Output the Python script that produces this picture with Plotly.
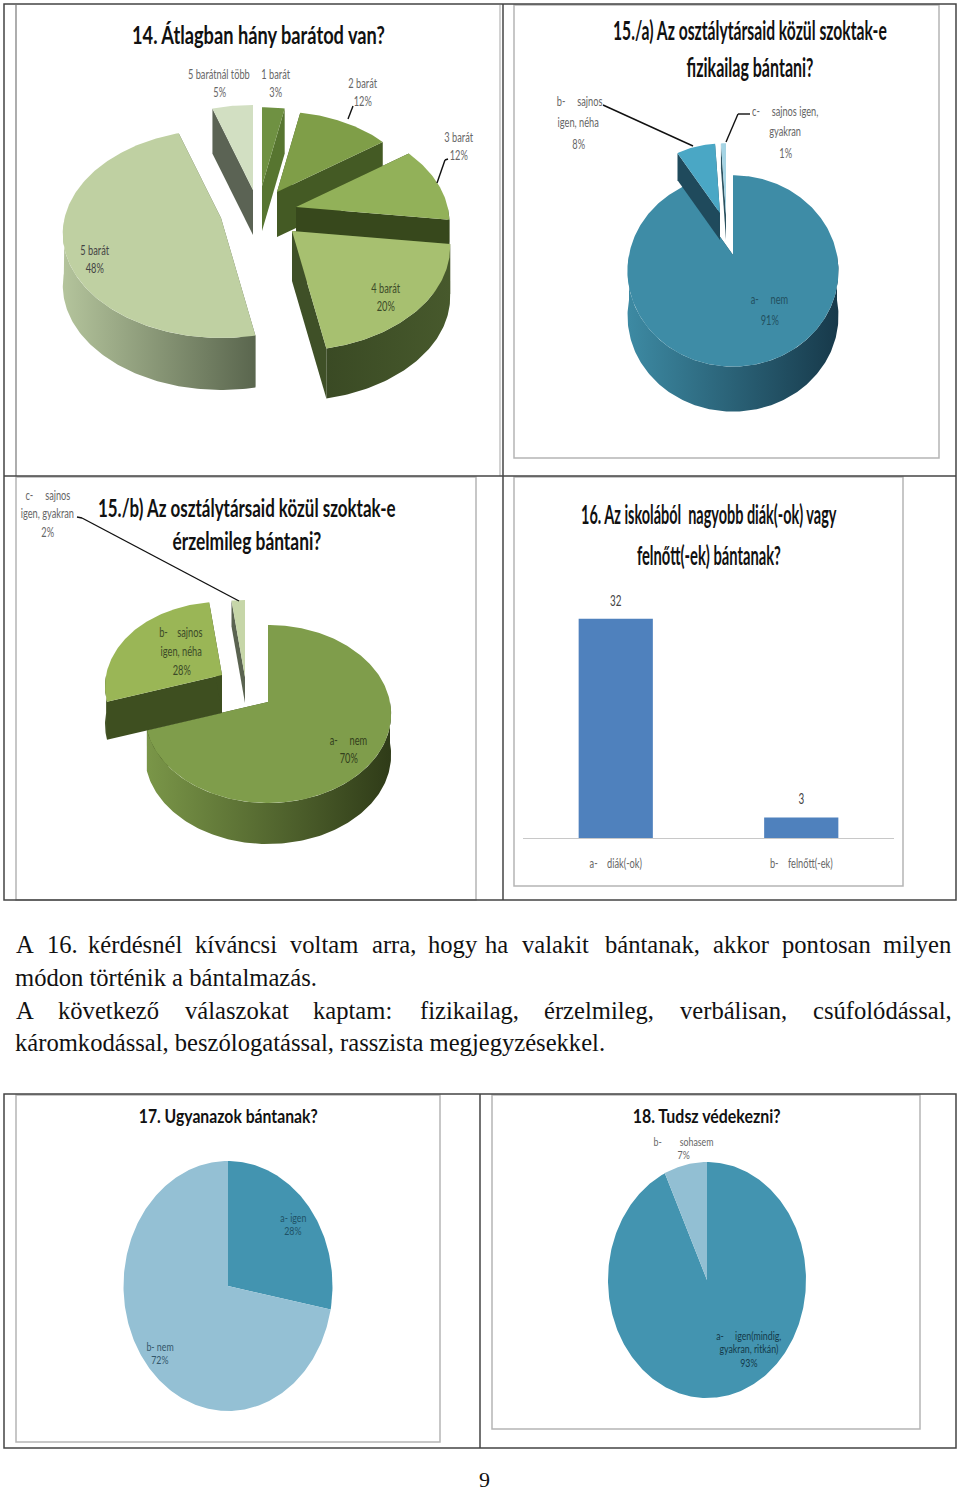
import json
import math
import plotly.graph_objects as go

# ---------- data ----------
q14_labels = ["1 barát", "2 barát", "3 barát", "4 barát", "5 barát", "5 barátnál több"]
q14_values = [3, 12, 12, 20, 48, 5]
q15a_labels = ["a-   nem", "b-   sajnos igen, néha", "c-   sajnos igen, gyakran"]
q15a_values = [91, 8, 1]
q15b_labels = ["a-   nem", "b-   sajnos igen, néha", "c-   sajnos igen, gyakran"]
q15b_values = [70, 28, 2]
q16_labels = ["a-\u00a0\u00a0\u00a0\u00a0diák(-ok)", "b-\u00a0\u00a0\u00a0\u00a0felnőtt(-ek)"]
q16_values = [32, 3]
q17_labels = ["a- igen", "b- nem"]
q17_values = [28, 72]
q18_labels = ["a-   igen(mindig, gyakran, ritkán)", "b-   sohasem"]
q18_values = [93, 7]

NARROW = "Lato"
SERIF = "Liberation Serif"
NB = "\u00a0"

traces = []


def angles(values):
    tot = sum(values)
    out, acc = [], 0
    for v in values:
        out.append((acc / tot * 360, (acc + v) / tot * 360))
        acc += v
    return out


def pt(apex, rx, ry, k, th, f=1.0):
    t = math.radians(th)
    s = 1 / (1 + k * math.cos(t))
    return apex[0] + f * rx * s * math.sin(t), apex[1] - f * ry * s * math.cos(t)


def arc(apex, rx, ry, k, a, b, f=1.0):
    n = max(int(abs(b - a)), 3)
    return [pt(apex, rx, ry, k, a + (b - a) * i / n, f) for i in range(n + 1)]


def poly(points, name, color=None, grad=None):
    xs = [p[0] for p in points] + [points[0][0]]
    ys = [p[1] for p in points] + [points[0][1]]
    kw = dict(x=xs, y=ys, mode="lines", fill="toself", line=dict(width=0),
              name=name, showlegend=False, hoverinfo="name", xaxis="x", yaxis="y")
    if grad:
        kw["fillgradient"] = dict(type="horizontal", colorscale=[[0, grad[0]], [1, grad[1]]])
    else:
        kw["fillcolor"] = color
    traces.append(go.Scatter(**kw))


def slice3d(name, a, b, apex, rx, ry, k, depth, top, side, wall=None, f=1.0):
    if depth:
        d = depth
        for th in (a, b):
            r = pt(apex, rx, ry, k, th, f)
            poly([apex, r, (r[0], r[1] + d), (apex[0], apex[1] + d)], name, side)
        lo, hi = max(a, 90), min(b, 270)
        if hi > lo:
            rim = arc(apex, rx, ry, k, lo, hi, f)
            low = [(x, y + d) for x, y in reversed(rim)]
            poly(rim + low, name, side if not wall else None, wall)
    poly([apex] + arc(apex, rx, ry, k, a, b, f), name, top)


# --- chart 14 ---
a14 = angles(q14_values)
s14 = {
    5: ((253, 190), 0.95, 45, "#d2dfc2", "#5b6354", None),
    0: ((262, 186), 0.88, 45, "#6f9142", "#577530", None),
    1: ((277, 192), 0.9, 45, "#7f9e48", "#445a24", None),
    2: ((296, 207), 0.96, 25, "#92b159", "#37481c", None),
    3: ((292, 231), 0.99, 50, "#a7c070", "#3f5027", ("#3a4a24", "#47592c")),
    4: ((221, 218), 0.99, 52, "#bfd0a2", "#5c6a50", ("#b4c49c", "#5a664e")),
}
for i in [5, 0, 1, 2, 3, 4]:
    ap, f, d, top, side, wall = s14[i]
    slice3d(q14_labels[i], a14[i][0], a14[i][1], ap, 158, 103, 0.15, d, top, side, wall, f)

# --- chart 15a ---
a15 = angles(q15a_values)
slice3d(q15a_labels[0], *a15[0], (733, 255), 104, 93, 0.167, 45, "#3e8ca6", "#1f4a5c", ("#3d8aa3", "#17394a"))
slice3d(q15a_labels[1], *a15[1], (720, 213), 104, 93, 0.167, 27, "#4aa7c5", "#1f4a5c", None, 0.87)
slice3d(q15a_labels[2], *a15[2], (726, 215), 104, 93, 0.167, 25, "#a5d4e4", "#2c5260", None, 0.9)

# --- chart 15b ---
b15 = angles(q15b_values)
slice3d(q15b_labels[0], *b15[0], (268, 702), 122, 87.4, 0.135, 41, "#7f9d4b", "#3e4f20", ("#7a9648", "#2f3b18"))
slice3d(q15b_labels[1], *b15[1], (222, 675), 122, 87.4, 0.135, 38, "#9ab656", "#3e4f20", None, 0.95)
slice3d(q15b_labels[2], *b15[2], (245, 677), 122, 87.4, 0.135, 26, "#c6d6a8", "#5a6350")

# --- charts 17, 18 ---
c17 = angles(q17_values)
slice3d(q17_labels[0], *c17[0], (228, 1286), 104.5, 125, 0, 0, "#4394b0", None)
slice3d(q17_labels[1], *c17[1], (228, 1286), 104.5, 125, 0, 0, "#94c0d4", None)
c18 = angles(q18_values)
slice3d(q18_labels[0], *c18[0], (707, 1280), 99, 118, 0, 0, "#4394b0", None)
slice3d(q18_labels[1], *c18[1], (707, 1280), 99, 118, 0, 0, "#92bfd3", None)

# --- chart 16 bars ---
traces.append(go.Bar(
    x=q16_labels, y=q16_values, width=0.4, marker=dict(color="#4f81bd", line=dict(width=0)),
    xaxis="x2", yaxis="y2", showlegend=False))

fig = go.Figure(traces)

# ---------- text ----------
anns = []
widths = {}


def T(x, y, s, size=12, color="#595959", family=NARROW, bold=False, anchor="center", w=None):
    anns.append(dict(x=x, y=y, xref="x", yref="y", text=f"<b>{s}</b>" if bold else s,
                     showarrow=False, xanchor=anchor, yanchor="middle",
                     font=dict(family=family, size=size, color=color)))
    if w:
        widths[s] = w


T(258, 34, "14. Átlagban hány barátod van?", 24, "#111", NARROW, True, w=253)
T(750, 29, "15./a) Az osztálytársaid közül szoktak-e", 27, "#111", NARROW, True, w=274)
T(750, 66, "fizikailag bántani?", 27, "#111", NARROW, True, w=127)
T(247, 507, "15./b) Az osztálytársaid közül szoktak-e", 24, "#111", NARROW, True, w=298)
T(247, 540, "érzelmileg bántani?", 24, "#111", NARROW, True, w=149)
T(709, 513, f"16. Az iskolából{NB}{NB}nagyobb diák(-ok) vagy", 27, "#111", NARROW, True, w=256)
T(709, 554, "felnőtt(-ek) bántanak?", 27, "#111", NARROW, True, w=144)
T(228, 1116, "17. Ugyanazok bántanak?", 18, "#111", NARROW, True, w=179)
T(706, 1116, "18. Tudsz védekezni?", 18, "#111", NARROW, True, w=148)

for x, y, s, c in [
    (219, 73, "5 barátnál több", "#666"), (219, 91, "5%", "#666"),
    (275, 73, "1 barát", "#666"), (275, 91, "3%", "#666"),
    (362, 82, "2 barát", "#666"), (362, 100, "12%", "#666"),
    (458, 136, "3 barát", "#666"), (458, 154, "12%", "#666"),
    (94, 249, "5 barát", "#444"), (94, 267, "48%", "#444"),
    (385, 287, "4 barát", "#3c4a28"), (385, 305, "20%", "#3c4a28"),
    (579, 100, f"b-{NB*5}sajnos", "#666"), (578, 121, "igen, néha", "#666"), (578, 143, "8%", "#666"),
    (785, 110, f"c-{NB*5}sajnos igen,", "#666"), (785, 130, "gyakran", "#666"), (785, 152, "1%", "#666"),
    (769, 298, f"a-{NB*5}nem", "#23505f"), (769, 319, "91%", "#23505f"),
    (48, 494, f"c-{NB*5}sajnos", "#666"), (47, 512, "igen, gyakran", "#666"), (47, 531, "2%", "#666"),
    (181, 631, f"b-{NB*4}sajnos", "#3c4a28"), (181, 650, "igen, néha", "#3c4a28"), (181, 669, "28%", "#3c4a28"),
    (348, 739, f"a-{NB*5}nem", "#33401c"), (348, 757, "70%", "#33401c"),
]:
    T(x, y, s, 14, c)

for x, y, s, c in [
    (293, 1217, "a- igen", "#1f5266"), (293, 1230, "28%", "#1f5266"),
    (160, 1346, "b- nem", "#33566a"), (160, 1359, "72%", "#33566a"),
    (683, 1141, f"b-{NB*8}sohasem", "#666"), (683, 1154, "7%", "#666"),
    (749, 1335, f"a-{NB*5}igen(mindig,", "#143a4a"), (749, 1348, "gyakran, ritkán)", "#143a4a"),
    (749, 1362, "93%", "#143a4a"),
]:
    T(x, y, s, 11, c)

# value labels above the bars, read from the series itself
for lab, v in zip(q16_labels, q16_values):
    anns.append(dict(x=lab, y=v, xref="x2", yref="y2", text=str(v), showarrow=False,
                     xanchor="center", yanchor="middle", yshift=19,
                     font=dict(family=NARROW, size=15, color="#444")))

BODY = 24.6
line1 = [(14, "A"), (45, "16."), (86, "kérdésnél"), (193, "kíváncsi"), (288, "voltam"), (370, "arra,"),
         (426, "hogy"), (483, "ha"), (520, "valakit"), (603, "bántanak,"), (711, "akkor"),
         (780, "pontosan"), (881, "milyen")]
line3 = [(14, "A"), (56, "következő"), (183, "válaszokat"), (311, "kaptam:"), (418, "fizikailag,"),
         (542, "érzelmileg,"), (678, "verbálisan,"), (811, "csúfolódással,")]
for x, w in line1:
    T(x, 944, w, BODY, "#111", SERIF, anchor="left")
T(13, 977, "módon történik a bántalmazás.", BODY, "#111", SERIF, anchor="left")
for x, w in line3:
    T(x, 1010, w, BODY, "#111", SERIF, anchor="left")
T(13, 1042, "káromkodással, beszólogatással, rasszista megjegyzésekkel.", BODY, "#111", SERIF, anchor="left")
T(484, 1479, "9", 22, "#111", SERIF)

# ---------- frames and leader lines ----------
shapes = []


def L(x0, y0, x1, y1, color="#333", w=1.5, layer="below"):
    shapes.append(dict(type="line", x0=x0, y0=y0, x1=x1, y1=y1, xref="x", yref="y",
                       line=dict(color=color, width=w), layer=layer))


def R(x0, y0, x1, y1, color, w=1.5):
    shapes.append(dict(type="rect", x0=x0, y0=y0, x1=x1, y1=y1, xref="x", yref="y",
                       line=dict(color=color, width=w), layer="below"))


GREY = "#b5b5b5"
R(514, 5, 939, 458, GREY)
R(16, 477, 476, 900, GREY)
R(514, 477, 903, 886, GREY)
R(16, 1095, 440, 1442, GREY)
R(492, 1095, 920, 1429, GREY)
L(16, 5, 16, 476, "#777", 1.2)
L(500, 5, 500, 476, GREY, 1.2)
# page tables
R(4, 4, 956, 900, "#444", 1.5)
L(503, 4, 503, 900, "#444", 1.5)
L(4, 476, 956, 476, "#444", 1.5)
R(4, 1094, 956, 1448, "#444", 1.5)
L(480, 1094, 480, 1448, "#444", 1.5)
# leaders
for seg in [((353, 106), (348, 119)), ((448, 159), (445, 160)), ((445, 160), (437, 183)),
            ((603, 105), (693, 146)), ((750, 114), (738, 114)), ((738, 114), (726, 142)),
            ((77, 517), (82, 518)), ((82, 518), (239, 601))]:
    L(seg[0][0], seg[0][1], seg[1][0], seg[1][1], "#111", 1.4, "above")

fig.update_layout(
    width=960, height=1492, margin=dict(l=0, r=0, t=0, b=0, pad=0), autosize=False,
    paper_bgcolor="white", plot_bgcolor="rgba(0,0,0,0)", showlegend=False,
    annotations=anns, shapes=shapes, bargap=0.6,
    xaxis=dict(range=[0, 960], domain=[0, 1], visible=False, fixedrange=True),
    yaxis=dict(range=[1492, 0], domain=[0, 1], visible=False, fixedrange=True),
    xaxis2=dict(domain=[523 / 960, 894 / 960], anchor="y2", type="category", range=[-0.5, 1.5],
                showline=True, linecolor="#c8c8c8", linewidth=1, ticks="", showgrid=False,
                zeroline=False, ticklabelstandoff=12,
                tickfont=dict(family=NARROW, size=14, color="#666")),
    yaxis2=dict(domain=[(1492 - 838) / 1492, (1492 - 564) / 1492], anchor="x2", range=[0, 40],
                visible=False, fixedrange=True),
)

# The reference's text is horizontally squeezed (a scanned page); no condensed font is installed,
# so Lato text is narrowed in place after drawing. The page margin is removed as well.
post = """
document.documentElement.style.margin='0';document.body.style.margin='0';document.body.style.overflow='hidden';
var WIDTHS=%s;
function squeeze(){
  document.querySelectorAll('svg text').forEach(function(el){
    if(el.getAttribute('data-sq'))return;
    var st=el.getAttribute('style')||'';
    if(st.indexOf('Lato')<0)return;
    var box=el.getBBox();
    if(!box.width)return;
    var key=el.textContent, s=WIDTHS[key]?WIDTHS[key]/box.width:0.66;
    var sz=parseFloat(el.style.fontSize||'0');
    if(!WIDTHS[key]&&sz<12)s=0.8;
    var cx=box.x+box.width/2;
    var t=el.getAttribute('transform')||'';
    el.setAttribute('transform',t+' translate('+cx+',0) scale('+s+',1) translate('+(-cx)+',0)');
    el.setAttribute('data-sq','1');
  });
}
squeeze();setTimeout(squeeze,100);setTimeout(squeeze,400);
""" % json.dumps(widths, ensure_ascii=False)
fig.write_html("out.html", post_script=post, config=dict(displayModeBar=False))
